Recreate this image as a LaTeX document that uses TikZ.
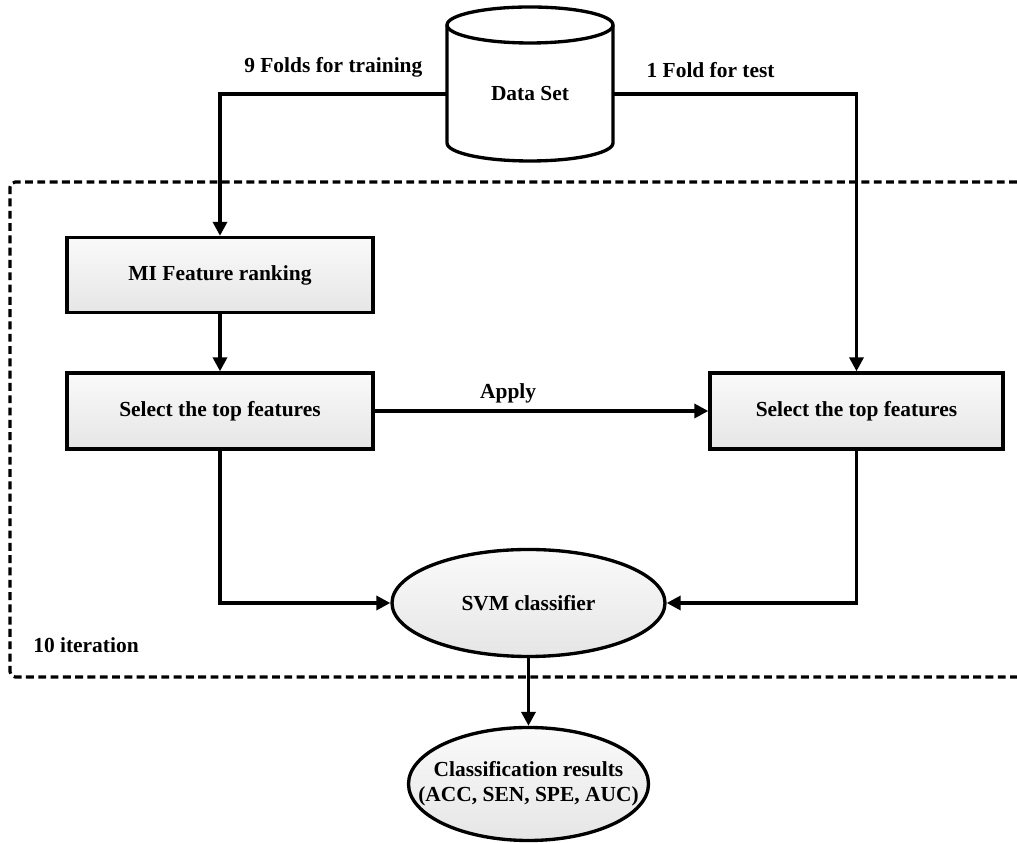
\documentclass[tikz,border=0pt]{standalone}
\usepackage{fontspec}
\setmainfont{Liberation Serif}
\usetikzlibrary{arrows.meta,shapes.geometric}
\tikzset{
	txt/.style={font=\bfseries\fontsize{12.2}{14.5}\selectfont},
	box/.style={txt, draw, line width=1.9pt, top color=black!2, bottom color=black!10, minimum width=6.12cm, minimum height=1.5cm},
	oval/.style={txt, ellipse, draw, line width=1.9pt, top color=black!2, bottom color=black!10, align=center, inner sep=0pt},
	flow/.style={line width=1.9pt, -{Triangle[length=2.8mm,width=2.8mm]}},
	frame/.style={line width=1.8pt, dash pattern=on 4.5pt off 2.5pt, rounded corners=3pt}
}

\begin{document}
\begin{tikzpicture}
		%%%%% START %%%%%
		\useasboundingbox (0, 0) rectangle (20.34, 16.86);
		
		\draw[frame] (20.34, 13.22) -- (0.2, 13.22) -- (0.2, 3.32) -- (20.34, 3.32);
		\node[txt] (iter) at (1.72, 3.96) {10 iteration};
		
		\draw[line width=1.9pt, fill=white] (8.94, 14.0) -- (8.94, 16.36) arc (180:0:1.66 and 0.36) -- (12.26, 14.0) arc (0:-180:1.66 and 0.36);
		\draw[line width=1.9pt] (8.94, 16.36) arc (180:360:1.66 and 0.36);
		\node[txt, minimum width=3.32cm] (ds) at (10.6, 14.98) {Data Set};
		
		\node[box] (mi) at (4.4, 11.36) {MI Feature ranking};
		\node[box, minimum height=1.52cm] (selL) at (4.4, 8.64) {Select the top features};
		\node[box, minimum width=5.86cm, minimum height=1.52cm] (selR) at (17.13, 8.64) {Select the top features};
		
		\node[oval, minimum width=5.46cm, minimum height=2.14cm] (svm) at (10.57, 4.8) {SVM classifier};
		\node[oval, minimum width=4.8cm, minimum height=2.26cm, inner xsep=-15pt] (res) at (10.57, 1.18) {Classification results\\(ACC, SEN, SPE, AUC)};
		
		\draw[flow] (ds.west) -| (mi.north) node[txt, pos=0.25, above=5pt] {9 Folds for training};
		\draw[flow] (ds.east) -| (selR.north) node[txt, pos=0.2, above=5pt] {1 Fold for test};
		\draw[flow] (mi) -- (selL);
		\draw[flow] (selL) -- (selR) node[txt, pos=0.4, above] {Apply};
		\draw[flow] (selL.south) |- (svm.west);
		\draw[flow] (selR.south) |- (svm.east);
		\draw[flow] (svm) -- (res);
		%%%%% END %%%%%
\end{tikzpicture}
\end{document}
